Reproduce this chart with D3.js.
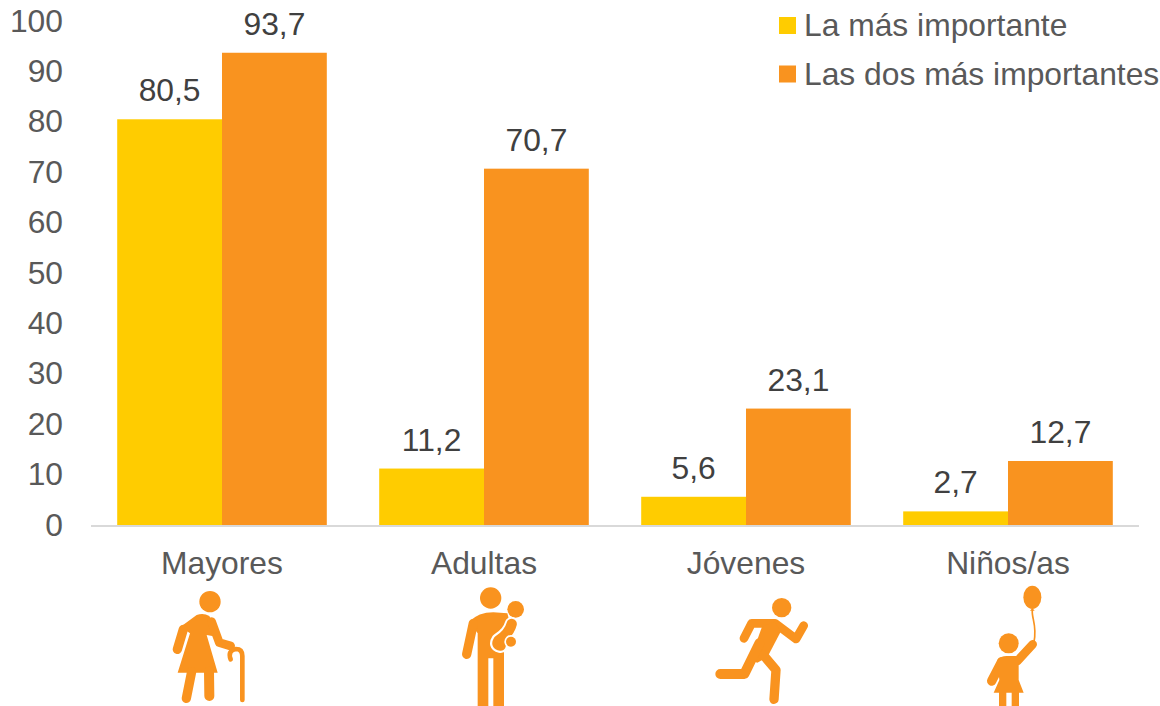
<!DOCTYPE html>
<html>
<head>
    <meta charset="utf-8">
    <title>Mayores, adultas, jóvenes, niños</title>
    <script src="https://d3js.org/d3.v7.min.js"></script>
    <style>
        body { margin: 0; background: #fff; overflow: hidden; }
        text { font-family: "Liberation Sans", Arial, sans-serif; font-size: 31.8px; }
        .axis text { fill: #595959; }
        .axis path, .axis line { display: none; }
        .label { fill: #404040; text-anchor: middle; }
        .legend text { fill: #595959; }
    </style>
</head>
<body>
<div id="chart"></div>
<script>
    // values
    const categories = ["Mayores", "Adultas", "Jóvenes", "Niños/as"];
    const seriesNames = ["La más importante", "Las dos más importantes"];
    const masImportante = [80.5, 11.2, 5.6, 2.7];
    const dosImportantes = [93.7, 70.7, 23.1, 12.7];
    const yTicks = [0, 10, 20, 30, 40, 50, 60, 70, 80, 90, 100];

    const colors = ["#FFCC00", "#F9931F"];
    const series = [masImportante, dosImportantes];

    const width = 1160, height = 706;
    const svg = d3.select("#chart").append("svg")
        .attr("width", width)
        .attr("height", height);

    // Scales
    const x = d3.scaleBand().domain(categories).range([91, 1139]).paddingInner(0.2).paddingOuter(0.1);
    const x1 = d3.scaleBand().domain([0, 1]).range([0, x.bandwidth()]);
    const y = d3.scaleLinear().domain([0, 100]).range([525, 21]);

    const fmt = d3.formatLocale({ decimal: ",", thousands: ".", grouping: [3], currency: ["", "€"] }).format(".1f");

    // Axes
    svg.append("g").attr("class", "axis")
        .attr("transform", "translate(63,0)")
        .call(d3.axisLeft(y).tickValues(yTicks).tickSize(0).tickPadding(0).tickFormat(d3.format("d")));

    svg.append("g").attr("class", "axis")
        .attr("transform", "translate(0,525)")
        .call(d3.axisBottom(x).tickSize(0).tickPadding(0))
        .selectAll("text").attr("y", 0).attr("dy", "49px");

    // Bars and labels
    series.forEach((values, s) => {
        const g = svg.append("g");
        g.selectAll("rect").data(values).enter().append("rect")
            .attr("x", (d, i) => x(categories[i]) + x1(s))
            .attr("y", d => y(d))
            .attr("width", x1.bandwidth())
            .attr("height", d => y(0) - y(d))
            .attr("fill", colors[s]);
        g.selectAll("text").data(values).enter().append("text")
            .attr("class", "label")
            .attr("x", (d, i) => x(categories[i]) + x1(s) + x1.bandwidth() / 2)
            .attr("y", d => y(d) - 18)
            .text(d => fmt(d));
    });

    // Baseline over the bars
    svg.append("line")
        .attr("x1", 91).attr("x2", 1139)
        .attr("y1", 526).attr("y2", 526)
        .attr("stroke", "#D9D9D9").attr("stroke-width", 2);

    // Legend
    const legend = svg.append("g").attr("class", "legend");
    seriesNames.forEach((name, i) => {
        legend.append("rect")
            .attr("x", 779).attr("y", 17 + i * 48.5)
            .attr("width", 17).attr("height", 17)
            .attr("fill", colors[i]);
        legend.append("text")
            .attr("x", 804).attr("y", 36 + i * 49)
            .text(name);
    });

    // Pictograms under each category, drawn at 3x and scaled down
    const orange = colors[1];
    function icon(cat, dx) {
        return svg.append("g")
            .attr("transform", `translate(${x(cat) + x.bandwidth() / 2 + dx},580) scale(${1 / 3})`)
            .attr("fill", orange)
            .attr("stroke-linecap", "round")
            .attr("stroke-linejoin", "round");
    }
    function limb(g, d, w, col) {
        return g.append("path").attr("d", d).attr("fill", "none")
            .attr("stroke", col || orange).attr("stroke-width", w);
    }

    // Mayores
    const a = icon("Mayores", -82);
    a.append("circle").attr("cx", 210).attr("cy", 65).attr("r", 32);
    a.append("path").attr("d", "M122,140 L170,105 Q190,97 208,108 L238,172 L200,165 L233,278 L113,278 L150,160 Z");
    limb(a, "M130,148 L112,208", 28);
    limb(a, "M215,125 L238,188 L272,198", 26);
    limb(a, "M155,275 L139,355", 28);
    limb(a, "M207,275 L208,348", 30);
    limb(a, "M272,238 Q262,212 288,207 Q307,207 307,228 L307,360", 14);

    // Adultas
    const b = icon("Adultas", -54);
    b.append("circle").attr("cx", 182).attr("cy", 54).attr("r", 32);
    b.append("circle").attr("cx", 257).attr("cy", 88).attr("r", 25);
    b.append("path").attr("d", "M118,125 Q145,97 190,97 L232,100 L240,130 L222,210 L222,378 L190,378 L190,235 L175,235 L175,378 L143,378 L143,160 Z");
    limb(b, "M130,130 L110,223", 28);
    limb(b, "M245,132 Q238,160 205,180 Q195,195 210,198 L240,190", 42, "#fff");
    limb(b, "M245,132 Q238,160 205,182 Q197,195 212,197", 31);
    b.append("circle").attr("cx", 243).attr("cy", 185).attr("r", 20).attr("fill", "#fff");
    b.append("circle").attr("cx", 243).attr("cy", 185).attr("r", 15);

    // Jóvenes
    const c = icon("Jóvenes", -46);
    c.append("circle").attr("cx", 245).attr("cy", 83).attr("r", 29);
    limb(c, "M132,175 L155,130 L225,130 L288,177 L311,137", 26);
    c.append("path").attr("d", "M186,140 L225,125 L242,155 L202,232 L172,248 L150,240 Z");
    limb(c, "M190,225 L228,270 L222,358", 28);
    limb(c, "M178,190 L133,282 L61,282", 30);

    // Niños/as
    const e = icon("Niños/as", -48);
    e.append("ellipse").attr("cx", 217).attr("cy", 52).attr("rx", 27).attr("ry", 35);
    e.append("path").attr("d", "M217,84 L210,92 L224,92 Z");
    e.append("path").attr("d", "M217,90 C214,115 232,135 222,186").attr("fill", "none")
        .attr("stroke", orange).attr("stroke-width", 5);
    e.append("circle").attr("cx", 146).attr("cy", 190).attr("r", 30);
    limb(e, "M218,193 L172,243", 26);
    limb(e, "M125,245 L95,303", 28);
    e.append("path").attr("d", "M112,240 Q122,228 140,228 L176,228 L176,300 L191,338 L101,338 L118,300 Z");
    e.append("rect").attr("x", 117).attr("y", 336).attr("width", 22).attr("height", 42);
    e.append("rect").attr("x", 155).attr("y", 336).attr("width", 22).attr("height", 42);
</script>
</body>
</html>
